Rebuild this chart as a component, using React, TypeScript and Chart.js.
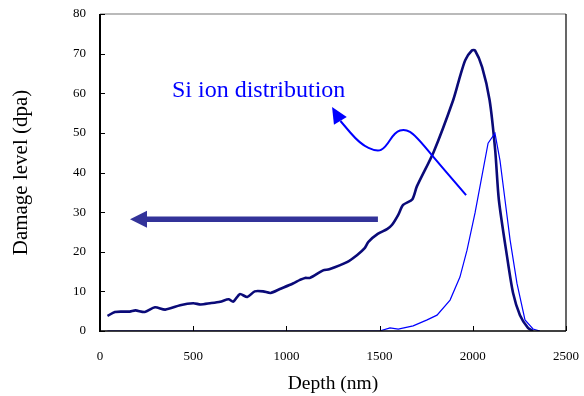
import React, { useEffect, useRef } from "react";
import { Chart, registerables } from "chart.js";

Chart.register(...registerables);

// Damage level curve (depth nm, dpa)
const damageDepth = [40, 80, 120, 160, 190, 240, 295, 350, 430, 500, 540, 590, 645, 690, 715, 750, 790, 830, 875, 915, 965, 1035, 1073, 1100, 1127, 1197, 1230, 1325, 1380, 1420, 1440, 1490, 1540, 1567, 1600, 1626, 1675, 1700, 1790, 1895, 1930, 1960, 1995, 2012, 2050, 2090, 2120, 2140, 2184, 2216, 2253, 2296, 2323];
const damageLevel = [3.8, 4.8, 4.9, 4.9, 5.2, 4.8, 6.0, 5.4, 6.5, 7.0, 6.7, 7.0, 7.4, 8.0, 7.4, 9.3, 8.6, 10.0, 10.0, 9.6, 10.6, 12.0, 12.9, 13.4, 13.4, 15.3, 15.6, 17.4, 19.2, 20.9, 22.5, 24.5, 25.7, 26.8, 29.3, 31.8, 33.2, 36.5, 45.2, 58.3, 64.0, 68.4, 70.8, 70.8, 66.6, 58.3, 45.7, 33.0, 18.7, 9.6, 4.0, 0.8, 0.0];

// Si ion distribution curve (depth nm, scaled)
const ionDepth = [40, 500, 1000, 1500, 1556, 1600, 1680, 1755, 1808, 1878, 1931, 1969, 2012, 2082, 2119, 2146, 2173, 2200, 2237, 2280, 2323, 2360];
const ionLevel = [0, 0, 0, 0, 0.8, 0.5, 1.3, 2.8, 4.0, 7.8, 13.6, 20.4, 29.8, 47.4, 49.9, 43.0, 33.0, 23.0, 12.0, 2.8, 0.5, 0];

// Axis ticks
const xTicks = [0, 500, 1000, 1500, 2000, 2500];
const yTicks = [0, 10, 20, 30, 40, 50, 60, 70, 80];

// Annotations (data coordinates)
const ionLabel = "Si ion distribution";
const ionLabelPos = [386, 59];
const ionArrowPath = [[1964, 34.3], [1824, 41.9], [1690, 49.5], [1636, 51.0], [1583, 50.2], [1529, 46.2], [1486, 45.2], [1395, 47.2], [1290, 53.0]];
const ionArrowTip = [1245, 56.5];
const bigArrowFrom = [1491, 28.2];
const bigArrowTo = [161, 28.2];

const annotationPlugin = {
  id: "annot",
  afterDraw(chart: any) {
    const { ctx, chartArea: a, scales } = chart;
    const xs = scales.x;
    const ys = scales.y;
    const px = (v: number) => xs.getPixelForValue(v);
    const py = (v: number) => ys.getPixelForValue(v);
    ctx.save();
    // frame
    ctx.lineWidth = 1.2;
    ctx.strokeStyle = "#777";
    ctx.beginPath();
    ctx.moveTo(a.left, a.top);
    ctx.lineTo(a.right, a.top);
    ctx.stroke();
    ctx.strokeStyle = "#000";
    ctx.beginPath();
    ctx.moveTo(a.right, a.top);
    ctx.lineTo(a.right, a.bottom);
    ctx.stroke();
    ctx.lineWidth = 1.5;
    ctx.beginPath();
    ctx.moveTo(a.left - 1, a.bottom);
    ctx.lineTo(a.right, a.bottom);
    ctx.stroke();
    ctx.lineWidth = 2;
    ctx.beginPath();
    ctx.moveTo(a.left, a.top);
    ctx.lineTo(a.left, a.bottom + 1);
    ctx.stroke();
    // tick marks inside
    ctx.lineWidth = 1;
    yTicks.forEach((t) => {
      const y = Math.round(py(t)) + 0.5;
      ctx.beginPath();
      ctx.moveTo(a.left, y);
      ctx.lineTo(a.left + 5, y);
      ctx.stroke();
    });
    xTicks.forEach((t) => {
      const x = Math.round(px(t)) + 0.5;
      ctx.beginPath();
      ctx.moveTo(x, a.bottom);
      ctx.lineTo(x, a.bottom - 5);
      ctx.stroke();
    });
    // big arrow
    const x0 = px(bigArrowFrom[0]);
    const x1 = px(bigArrowTo[0]);
    const yb = py(bigArrowFrom[1]);
    ctx.fillStyle = "#333399";
    ctx.strokeStyle = "#333399";
    ctx.lineWidth = 5.5;
    ctx.beginPath();
    ctx.moveTo(x0, yb);
    ctx.lineTo(x1 + 14, yb);
    ctx.stroke();
    ctx.beginPath();
    ctx.moveTo(x1, yb);
    ctx.lineTo(x1 + 17, yb - 8.5);
    ctx.lineTo(x1 + 17, yb + 8.5);
    ctx.closePath();
    ctx.fill();
    // curvy arrow
    const pts = ionArrowPath.map((p) => [px(p[0]), py(p[1])]);
    ctx.strokeStyle = "#0000ff";
    ctx.fillStyle = "#0000ff";
    ctx.lineWidth = 2;
    ctx.beginPath();
    ctx.moveTo(pts[0][0], pts[0][1]);
    for (let i = 1; i < pts.length - 1; i++) {
      const mx = (pts[i][0] + pts[i + 1][0]) / 2;
      const my = (pts[i][1] + pts[i + 1][1]) / 2;
      ctx.quadraticCurveTo(pts[i][0], pts[i][1], mx, my);
    }
    const last = pts[pts.length - 1];
    ctx.lineTo(last[0], last[1]);
    ctx.stroke();
    const tx = px(ionArrowTip[0]);
    const ty = py(ionArrowTip[1]);
    const ang = Math.atan2(last[1] - ty, last[0] - tx);
    const L = 16;
    const W = 7.5;
    const bx = tx + Math.cos(ang) * L;
    const by = ty + Math.sin(ang) * L;
    ctx.beginPath();
    ctx.moveTo(tx, ty);
    ctx.lineTo(bx - Math.sin(ang) * W, by + Math.cos(ang) * W);
    ctx.lineTo(bx + Math.sin(ang) * W, by - Math.cos(ang) * W);
    ctx.closePath();
    ctx.fill();
    // label
    ctx.font = "24px 'Liberation Serif'";
    ctx.fillStyle = "#0000ff";
    ctx.textBaseline = "alphabetic";
    ctx.textAlign = "left";
    ctx.fillText(ionLabel, px(ionLabelPos[0]), py(ionLabelPos[1]));
    ctx.restore();
  },
};

export default function App() {
  const ref = useRef<HTMLCanvasElement>(null);
  useEffect(() => {
    document.body.style.margin = "0";
    const chart = new Chart(ref.current as HTMLCanvasElement, {
      type: "line",
      data: {
        datasets: [
          {
            label: "Si ion",
            data: ionDepth.map((x, i) => ({ x, y: ionLevel[i] })),
            borderColor: "#0000ff",
            borderWidth: 1.2,
            pointRadius: 0,
            tension: 0,
          },
          {
            label: "Damage",
            data: damageDepth.map((x, i) => ({ x, y: damageLevel[i] })),
            borderColor: "#0a0a78",
            borderWidth: 2.6,
            pointRadius: 0,
            tension: 0.25,
          },
        ],
      },
      plugins: [annotationPlugin],
      options: {
        animation: false,
        responsive: false,
        layout: { padding: { top: 14, right: 18, left: 0, bottom: 0 } },
        plugins: { legend: { display: false }, tooltip: { enabled: false } },
        scales: {
          x: {
            type: "linear",
            min: 0,
            max: 2500,
            afterFit: (s: any) => {
              s.height = 65;
              s.paddingLeft = 0;
              s.paddingRight = 0;
            },
            afterBuildTicks: (s: any) => {
              s.ticks = xTicks.map((v) => ({ value: v }));
            },
            grid: { display: false },
            border: { display: false },
            ticks: {
              padding: 10,
              color: "#000",
              font: { family: "'Liberation Serif'", size: 13 },
              callback: (v: any) => String(v),
            },
            title: {
              display: true,
              text: "Depth (nm)",
              color: "#000",
              font: { family: "'Liberation Serif'", size: 19.5 },
              padding: { top: 0, bottom: 0 },
            },
          },
          y: {
            type: "linear",
            min: 0,
            max: 80,
            afterFit: (s: any) => {
              s.width = 100;
              s.paddingTop = 0;
              s.paddingBottom = 0;
            },
            afterBuildTicks: (s: any) => {
              s.ticks = yTicks.map((v) => ({ value: v }));
            },
            grid: { display: false },
            border: { display: false },
            ticks: {
              padding: 6,
              color: "#000",
              font: { family: "'Liberation Serif'", size: 13 },
              callback: (v: any) => String(v),
            },
            title: {
              display: true,
              text: "Damage level (dpa)",
              color: "#000",
              font: { family: "'Liberation Serif'", size: 21 },
              padding: { top: 9, bottom: 0 },
            },
          },
        },
      },
    });
    return () => chart.destroy();
  }, []);
  return (
    <div style={{ width: 584, height: 396 }}>
      <canvas ref={ref} width={584} height={396} />
    </div>
  );
}
